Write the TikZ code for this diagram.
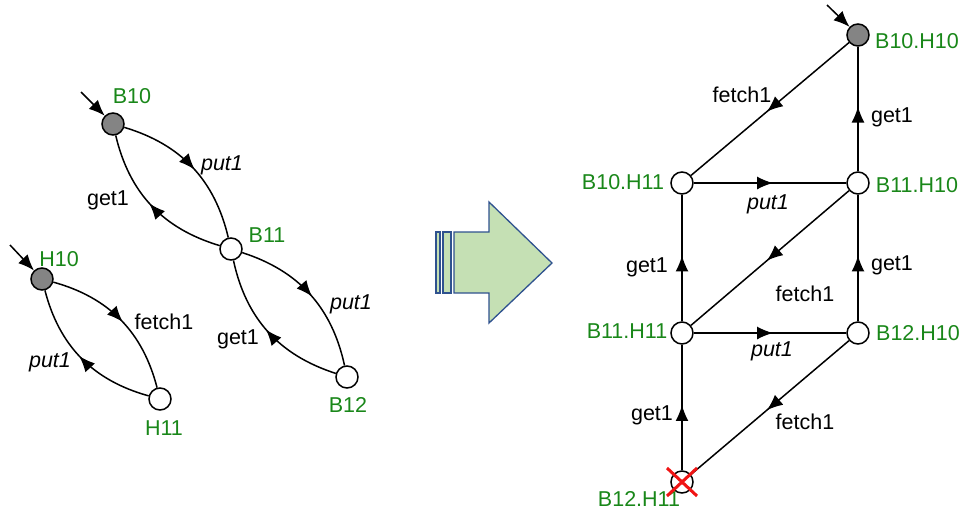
\documentclass[tikz,border=0pt]{standalone}
\usepackage{fontspec}
\setmainfont{Liberation Sans}
\usetikzlibrary{arrows.meta,decorations.markings}

\definecolor{lblgreen}{RGB}{25,135,25}
\definecolor{startgray}{RGB}{132,132,132}
\definecolor{arrowfill}{RGB}{197,224,180}
\definecolor{arrowline}{RGB}{47,82,143}
\definecolor{failred}{RGB}{240,20,20}

\begin{document}
\begin{tikzpicture}[x=1pt,y=-1pt,
  stnode/.style={circle,draw,line width=1.5pt,fill=white,minimum size=22pt,inner sep=0pt},
  initnode/.style={stnode,fill=startgray},
  lbltxt/.style={font=\fontsize{21.5}{24}\selectfont,inner sep=0pt,text height=15pt,text depth=0pt},
  stname/.style={lbltxt,text=lblgreen},
  act/.style={lbltxt},
  actit/.style={lbltxt,font=\fontsize{21.5}{24}\selectfont\itshape},
  trans/.style={line width=1.5pt,postaction={decorate},
    decoration={markings,mark=at position 0.52 with {\arrow{Latex[length=16pt,width=13pt]}}}},
  entry/.style={line width=1.5pt,-{Latex[length=16pt,width=13pt]}},
  bigarrow/.style={fill=arrowfill,draw=arrowline,line width=1.3pt,line join=miter}
]
\useasboundingbox (0,0) rectangle (964,520);

% ---------- left: the two component machines ----------
\node[initnode] (b10) at (113,124) {};
\node[stnode] (b11) at (231,249) {};
\node[stnode] (b12) at (347,377) {};
\node[initnode] (h10) at (42,279) {};
\node[stnode] (h11) at (160,399) {};

\node[stname] (lb10) at (132,96) {B10};
\node[stname] (lb11) at (267,235) {B11};
\node[stname] (lb12) at (348,405) {B12};
\node[stname] (lh10) at (59,259) {H10};
\node[stname] (lh11) at (164,428) {H11};

\coordinate (inb10) at (81,92);
\coordinate (inh10) at (10,245);
\draw[entry] (inb10) -- (b10);
\draw[entry] (inh10) -- (h10);

\draw[trans] (b10) to[bend left=30] (b11);
\draw[trans] (b11) to[bend left=30] (b10);
\draw[trans] (b11) to[bend left=30] (b12);
\draw[trans] (b12) to[bend left=30] (b11);
\draw[trans] (h10) to[bend left=30] (h11);
\draw[trans] (h11) to[bend left=30] (h10);

\node[actit] (e1) at (222,163) {put1};
\node[act]   (e2) at (108,198) {get1};
\node[actit] (e3) at (351,302) {put1};
\node[act]   (e4) at (238,337) {get1};
\node[act]   (e5) at (164,322) {fetch1};
\node[actit] (e6) at (50,360) {put1};

% ---------- middle: composition arrow ----------
\draw[bigarrow] (436,232) rectangle (440,293);
\draw[bigarrow] (443,232) rectangle (451,293);
\draw[bigarrow] (454,232) -- (489,232) -- (489,202) -- (552,263)
  -- (489,323) -- (489,293) -- (454,293) -- cycle;

% ---------- right: the product machine ----------
\node[initnode] (bh00) at (858,35) {};
\node[stnode] (bh01) at (682,183) {};
\node[stnode] (bh10) at (858,183) {};
\node[stnode] (bh11) at (682,333) {};
\node[stnode] (bh20) at (858,333) {};
\node[stnode] (bh21) at (682,482) {};

\node[stname] (lbh00) at (917,41) {B10.H10};
\node[stname] (lbh01) at (623,182) {B10.H11};
\node[stname] (lbh10) at (917,185) {B11.H10};
\node[stname] (lbh11) at (627,331) {B11.H11};
\node[stname] (lbh20) at (918,333) {B12.H10};
\node[stname] (lbh21) at (639,499) {B12.H11};

\coordinate (inbh00) at (827,5);
\draw[entry] (inbh00) -- (bh00);

\draw[trans] (bh00) -- (bh01);
\draw[trans] (bh10) -- (bh00);
\draw[trans] (bh01) -- (bh10);
\draw[trans] (bh11) -- (bh01);
\draw[trans] (bh10) -- (bh11);
\draw[trans] (bh20) -- (bh10);
\draw[trans] (bh11) -- (bh20);
\draw[trans] (bh21) -- (bh11);
\draw[trans] (bh20) -- (bh21);

\node[act]   (r1) at (742,95)  {fetch1};
\node[act]   (r2) at (892,115) {get1};
\node[actit] (r3) at (768,202) {put1};
\node[act]   (r4) at (647,265) {get1};
\node[act]   (r5) at (805,294) {fetch1};
\node[act]   (r6) at (892,263) {get1};
\node[actit] (r7) at (772,349) {put1};
\node[act]   (r8) at (652,413) {get1};
\node[act]   (r9) at (805,422) {fetch1};

% deadlock mark
\draw[failred,line width=3pt] ([shift={(-15,-14)}]bh21.center) -- ([shift={(15,14)}]bh21.center);
\draw[failred,line width=3pt] ([shift={(-15,14)}]bh21.center) -- ([shift={(15,-14)}]bh21.center);
\end{tikzpicture}
\end{document}
